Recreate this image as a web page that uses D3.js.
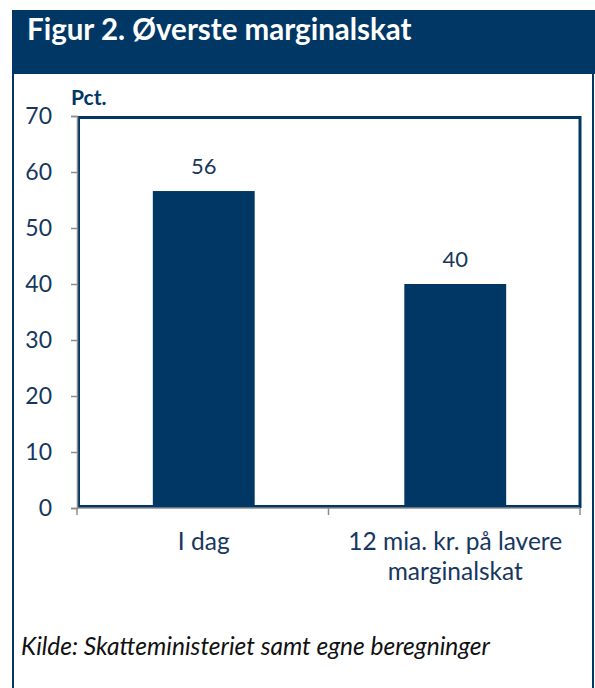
<!DOCTYPE html>
<html>
<head>
<meta charset="utf-8">
<script src="https://cdn.jsdelivr.net/npm/d3@7"></script>
<style>
  body { margin: 0; background: #fff; }
  svg { display: block; }
</style>
</head>
<body>
<div id="chart"></div>
<script>
// Chart data
const categories = ["I dag", "12 mia. kr. på lavere marginalskat"];
const values = [56.6, 40];
const valueLabels = ["56", "40"];
const yTicks = [0, 10, 20, 30, 40, 50, 60, 70];

drawChart();

function drawChart() {
  const W = 595, H = 688;
  const navy = "#003764";
  const textColor = "#17375e";
  const grey = "#8c8c8c";

  // plot area
  const plot = { left: 77, right: 580, top: 116, bottom: 508 };

  let svg = d3.select("#chart")
    .append("svg")
    .attr("width", W)
    .attr("height", H)
    .style("font-family", "Lato, 'Open Sans', sans-serif");

  // outer frame
  svg.append("line")
    .attr("x1", 13).attr("x2", 13).attr("y1", 10).attr("y2", H)
    .attr("stroke", navy).attr("stroke-width", 2);
  svg.append("line")
    .attr("x1", 593).attr("x2", 593).attr("y1", 10).attr("y2", H)
    .attr("stroke", navy).attr("stroke-width", 2);

  // header band
  svg.append("rect")
    .attr("x", 12).attr("y", 10)
    .attr("width", W - 12).attr("height", 64)
    .attr("fill", navy);

  svg.append("text")
    .attr("x", 27).attr("y", 40)
    .attr("fill", "#fff")
    .style("font-size", "29.5px")
    .style("font-weight", "bold")
    .text("Figur 2. Øverste marginalskat");

  // scales
  let x = d3.scaleBand()
    .domain(categories)
    .range([plot.left, plot.right])
    .padding(0);

  let y = d3.scaleLinear()
    .domain([0, 70])
    .range([plot.bottom, plot.top]);

  const barW = x.bandwidth() * 0.405;

  // bars
  svg.selectAll("rect.bar")
    .data(values)
    .enter()
    .append("rect")
    .attr("class", "bar")
    .attr("x", (d, i) => x(categories[i]) + x.bandwidth() / 2 - barW / 2 + 1)
    .attr("y", d => y(d))
    .attr("width", barW)
    .attr("height", d => y(0) - y(d))
    .attr("fill", navy);

  // value labels
  svg.selectAll("text.val")
    .data(values)
    .enter()
    .append("text")
    .attr("class", "val")
    .attr("x", (d, i) => x(categories[i]) + x.bandwidth() / 2 + 1)
    .attr("y", d => y(d) - 17)
    .attr("text-anchor", "middle")
    .attr("fill", textColor)
    .style("font-size", "22px")
    .text((d, i) => valueLabels[i]);

  // plot frame (navy)
  svg.append("rect")
    .attr("x", plot.left + 1.5)
    .attr("y", plot.top + 1.5)
    .attr("width", plot.right - plot.left - 1.5)
    .attr("height", plot.bottom - plot.top - 3)
    .attr("fill", "none")
    .attr("stroke", navy)
    .attr("stroke-width", 3);

  // y axis
  let yAxis = svg.append("g")
    .attr("transform", "translate(" + plot.left + ",0)")
    .call(d3.axisLeft(y).tickValues(yTicks).tickSize(6).tickPadding(19).tickFormat(d3.format("d")));
  yAxis.select(".domain").attr("stroke", grey).attr("stroke-width", 1.5);
  yAxis.selectAll(".tick line").attr("stroke", grey).attr("stroke-width", 1.5);
  yAxis.selectAll("text")
    .attr("fill", textColor)
    .style("font-size", "23px")
    .style("font-family", "Lato, 'Open Sans', sans-serif");

  // x axis: ticks at band boundaries
  let xb = svg.append("g")
    .attr("transform", "translate(0," + plot.bottom + ")");
  xb.append("line")
    .attr("x1", plot.left).attr("x2", plot.right)
    .attr("stroke", grey).attr("stroke-width", 1.5);
  const bounds = categories.map(c => x(c)).concat([plot.right]);
  xb.selectAll("line.tk")
    .data(bounds)
    .enter()
    .append("line")
    .attr("class", "tk")
    .attr("x1", d => d).attr("x2", d => d)
    .attr("y1", 0).attr("y2", 7)
    .attr("stroke", grey).attr("stroke-width", 1.5);

  // category labels, the long one in two lines
  const lines = [["I dag"], ["12 mia. kr. på lavere", "marginalskat"]];
  categories.forEach(function (c, i) {
    let t = svg.append("text")
      .attr("x", x(c) + x.bandwidth() / 2 + 1)
      .attr("y", plot.bottom + 42)
      .attr("text-anchor", "middle")
      .attr("fill", textColor)
      .style("font-size", "24.5px");
    lines[i].forEach(function (l, j) {
      t.append("tspan")
        .attr("x", x(c) + x.bandwidth() / 2 + 1)
        .attr("dy", j === 0 ? 0 : 30)
        .text(l);
    });
  });

  // unit label
  svg.append("text")
    .attr("x", 71).attr("y", 105)
    .attr("fill", navy)
    .style("font-size", "21px")
    .style("font-weight", "bold")
    .text("Pct.");

  // source
  svg.append("text")
    .attr("x", 21).attr("y", 655)
    .attr("fill", "#111")
    .style("font-size", "24.5px")
    .style("font-style", "italic")
    .text("Kilde: Skatteministeriet samt egne beregninger");
}
</script>
</body>
</html>
